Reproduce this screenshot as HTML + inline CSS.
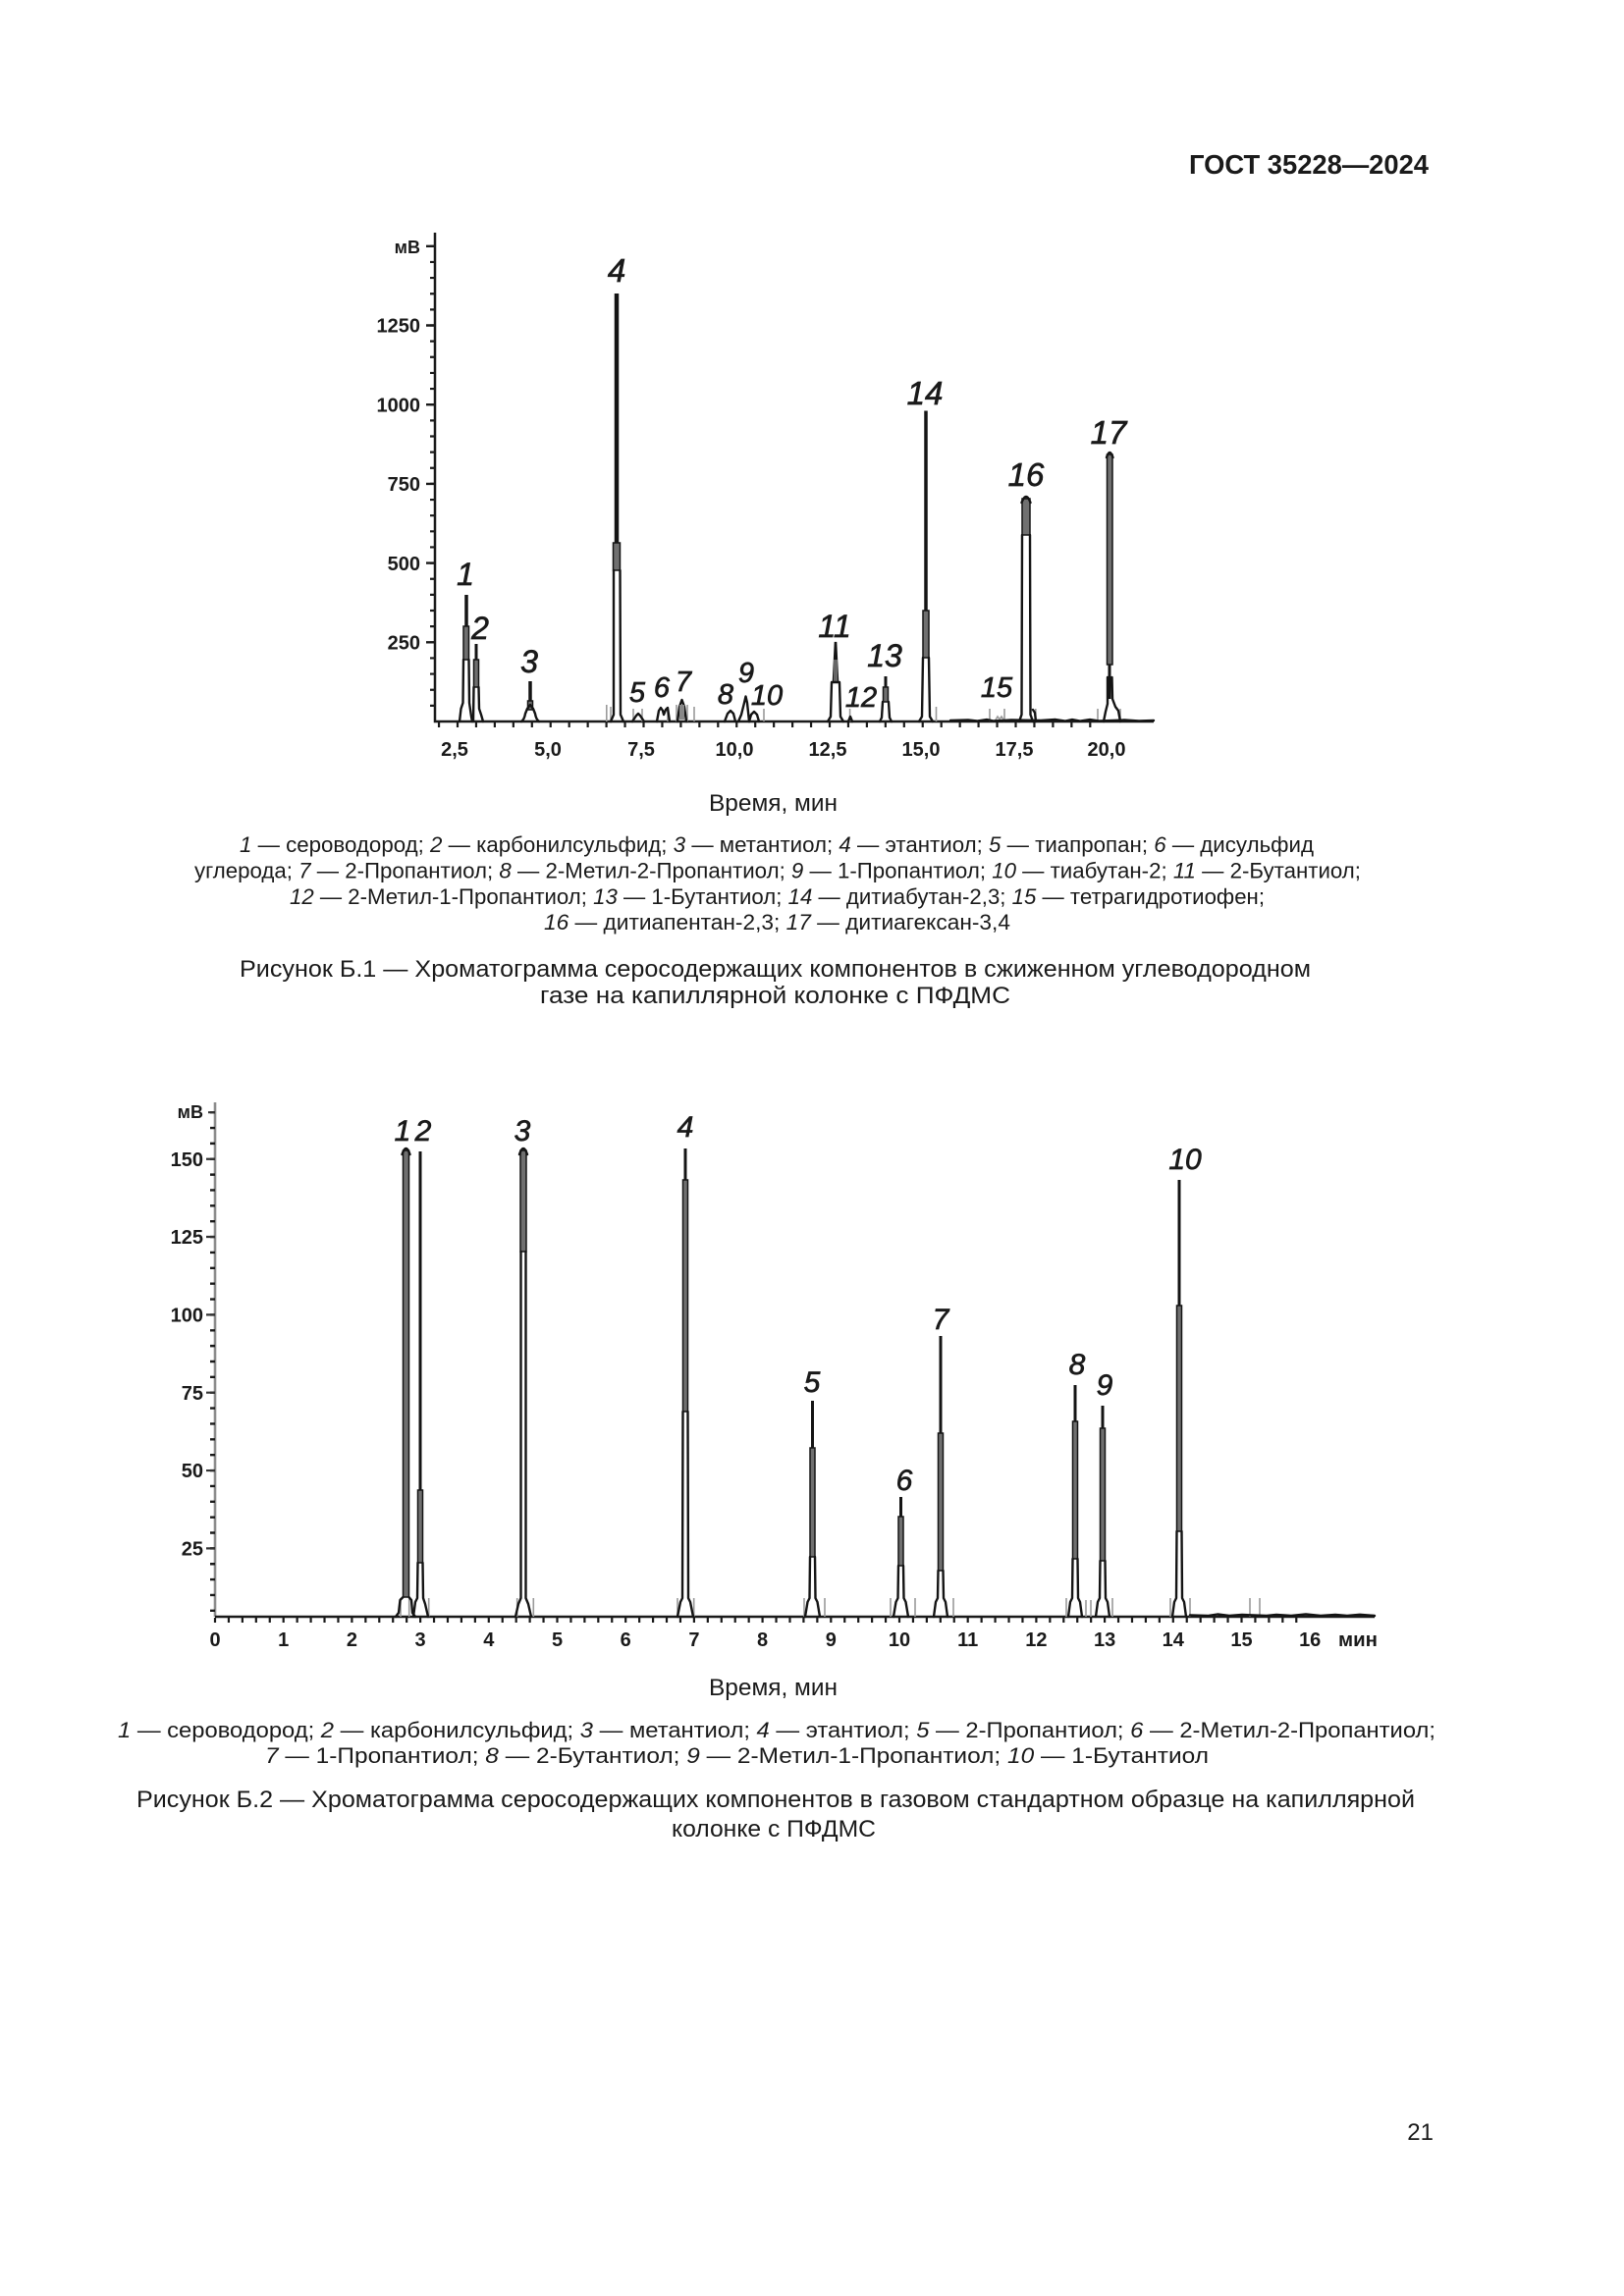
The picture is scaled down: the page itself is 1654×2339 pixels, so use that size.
<!DOCTYPE html>
<html><head><meta charset="utf-8"><style>
html,body{margin:0;padding:0;background:#fff;}
svg{display:block;}
.t{font-family:"Liberation Sans",Arial,sans-serif;fill:#1a1a1a;}
.b{font-weight:bold;}
.lb{font-family:"Liberation Sans",Arial,sans-serif;font-style:italic;fill:#1a1a1a;stroke:#1a1a1a;stroke-width:0.7;text-anchor:middle;}
.pk{stroke:#141414;stroke-width:2.4;fill:none;stroke-linejoin:round;stroke-linecap:round;}
.sp{stroke:#141414;fill:none;}
.bd{fill:#707070;stroke:#141414;stroke-width:1.5;}
.gm{stroke:#9a9a9a;stroke-width:1.6;fill:none;}
</style></head><body>
<svg width="1654" height="2339" viewBox="0 0 1654 2339" xmlns="http://www.w3.org/2000/svg">
<rect width="1654" height="2339" fill="#fff"/>

<!-- Header -->
<text class="t b" x="1211" y="177" font-size="28" textLength="244" lengthAdjust="spacingAndGlyphs">ГОСТ 35228—2024</text>

<!-- ============ CHART 1 ============ -->
<g>
<path d="M443,237 V735 H1175" stroke="#1a1a1a" stroke-width="2.5" fill="none"/>
<path d="M443,735m-5,-16.14h5m-5,-16.14h5m-5,-16.14h5m-5,-16.14h5m-5,-16.14h5m-5,-16.14h5m-5,-16.14h5m-5,-16.14h5m-5,-16.14h5m-5,-16.14h5m-5,-16.14h5m-5,-16.14h5m-5,-16.14h5m-5,-16.14h5m-5,-16.14h5m-5,-16.14h5m-5,-16.14h5m-5,-16.14h5m-5,-16.14h5m-5,-16.14h5m-5,-16.14h5m-5,-16.14h5m-5,-16.14h5m-5,-16.14h5m-5,-16.14h5m-5,-16.14h5m-5,-16.14h5m-5,-16.14h5m-5,-16.14h5m-5,-16.14h5" stroke="#1a1a1a" stroke-width="2.2" fill="none"/>
<path d="M434,250.8h9M434,331.5h9M434,412.2h9M434,492.9h9M434,573.6h9M434,654.3h9" stroke="#1a1a1a" stroke-width="2.4" fill="none"/>
<path d="M447.05,736v5m18.95,-5v5m18.95,-5v5m18.95,-5v5m18.95,-5v5m18.95,-5v5m18.95,-5v5m18.95,-5v5m18.95,-5v5m18.95,-5v5m18.95,-5v5m18.95,-5v5m18.95,-5v5m18.95,-5v5m18.95,-5v5m18.95,-5v5m18.95,-5v5m18.95,-5v5m18.95,-5v5m18.95,-5v5m18.95,-5v5m18.95,-5v5m18.95,-5v5m18.95,-5v5m18.95,-5v5m18.95,-5v5m18.95,-5v5m18.95,-5v5m18.95,-5v5m18.95,-5v5m18.95,-5v5m18.95,-5v5m18.95,-5v5m18.95,-5v5m18.95,-5v5m18.95,-5v5m18.95,-5" stroke="#1a1a1a" stroke-width="2.2" fill="none"/>

<text class="t b" x="428" y="258" font-size="18" text-anchor="end">мВ</text>
<text class="t b" x="428" y="338.7" font-size="20" text-anchor="end">1250</text>
<text class="t b" x="428" y="419.4" font-size="20" text-anchor="end">1000</text>
<text class="t b" x="428" y="500.1" font-size="20" text-anchor="end">750</text>
<text class="t b" x="428" y="580.8" font-size="20" text-anchor="end">500</text>
<text class="t b" x="428" y="661.5" font-size="20" text-anchor="end">250</text>

<g class="t b" font-size="20" text-anchor="middle">
<text x="463" y="770">2,5</text>
<text x="558" y="770">5,0</text>
<text x="653" y="770">7,5</text>
<text x="748" y="770">10,0</text>
<text x="843" y="770">12,5</text>
<text x="938" y="770">15,0</text>
<text x="1033" y="770">17,5</text>
<text x="1127" y="770">20,0</text>
</g>

<!-- gray markers -->
<path class="gm" d="M617.8,718V735M622,720V735M645,722V735M654,722V735M680,722V735M689,718V735M700,718V735M707,720V735M778,722V735M865.6,722V735M953.5,720V735M1008,722V735M1023,722V735M1054.8,722V735M1118,722V735M1141,722V735"/>

<!-- peak 1 -->
<line class="sp" x1="475" y1="606" x2="475" y2="640" stroke-width="3.5"/>
<rect class="bd" x="472" y="638" width="5.5" height="34"/>
<path class="pk" d="M472,672 L471.5,716 L469.5,722 L468,735 M477.5,672 L478,716 L480,730 L481,735"/>
<!-- peak 2 -->
<line class="sp" x1="485" y1="656" x2="485" y2="672" stroke-width="3"/>
<rect class="bd" x="482.5" y="672" width="5" height="28"/>
<path class="pk" d="M482.5,700 L482,735 M487.5,700 L488,722 L490,728 L492,735"/>
<!-- peak 3 -->
<line class="sp" x1="540" y1="694" x2="540" y2="716" stroke-width="3.5"/>
<rect class="bd" x="537.5" y="714" width="5" height="9"/>
<path class="pk" d="M531,735 Q534,733 535,727 L537,722 L540,718 L543,722 L545,727 Q546,733 549,735"/>
<!-- peak 4 -->
<line class="sp" x1="628" y1="299" x2="628" y2="555" stroke-width="4.5"/>
<rect class="bd" x="624.5" y="553" width="7" height="28"/>
<path class="pk" d="M625,581 L625,728 L622,735 M631.5,581 L632,728 L635,735"/>
<!-- small peaks 5-10 -->
<path class="pk" stroke-width="2" d="M644,735 L648,729 L650,727 L652,729 L656,735"/>
<path class="pk" stroke-width="2" d="M669,735 L671,724 L673,721 L675,724 L676,728 L678,723 L680,721 L682,735"/>
<path class="pk" stroke-width="2" d="M690,735 L692,720 L694.5,713 L697,720 L699,735"/>
<rect x="692" y="718" width="5" height="15" fill="#888"/>
<path class="pk" stroke-width="2" d="M738,735 L741,727 L744,724 L747,727 L749,735"/>
<path class="pk" stroke-width="2" d="M752,735 L755,728 L758,716 L759.5,709.5 L761,716 L763,735"/>
<path class="pk" stroke-width="2" d="M763,735 L765,728 L768,725 L771,728 L773,735"/>
<!-- peak 11 -->
<path class="sp" stroke-width="2.6" d="M849,695 L851,654 L853,695"/>
<rect x="849" y="672" width="4" height="22" fill="#666"/>
<path class="pk" d="M847,695 L846,730 L843,735 M855,695 L856,730 L859,735 M847,695 H855"/>
<!-- peak 12 -->
<path class="pk" stroke-width="2" d="M864,735 L866,730 L868,735"/>
<!-- peak 13 -->
<line class="sp" x1="902" y1="689" x2="902" y2="702" stroke-width="3"/>
<rect class="bd" x="899.5" y="700" width="5" height="15"/>
<path class="pk" d="M899,715 L898,731 L896,735 M905,715 L906,731 L908,735"/>
<!-- peak 14 -->
<line class="sp" x1="943" y1="418.5" x2="943" y2="624" stroke-width="3.5"/>
<rect class="bd" x="940" y="622" width="6" height="48"/>
<path class="pk" d="M940,670 L939,730 L936,735 M946,670 L947,730 L950,735"/>
<!-- peak 15 -->
<path class="gm" d="M1013,735 L1016,730 L1018,733 L1020,730 L1023,735"/>
<!-- peak 16 -->
<rect class="bd" x="1041" y="508" width="8" height="37"/>
<path class="pk" d="M1040.5,512 Q1045,500 1049.5,512"/>
<path class="pk" d="M1041,545 L1040.5,728 L1038,735 M1049,545 L1049.5,728 L1052,735 M1052,723 L1054,726 L1055,735"/>
<!-- peak 17 -->
<rect class="bd" x="1127.5" y="463" width="5.5" height="214"/>
<path class="pk" d="M1127,466 Q1130.2,456 1133.5,466"/>
<line class="sp" x1="1130" y1="677" x2="1130" y2="712" stroke-width="3"/>
<path class="pk" d="M1124,735 L1126,725 L1128,717 L1128,690 M1132.5,690 L1133,712 L1136,720 L1139,724 L1141,735"/>
<!-- baseline noise -->
<path class="pk" stroke-width="2" d="M968,734 L986,733.5 L995,734.5 L1005,733 L1012,734.5 L1030,733.5 L1060,734 L1075,733 L1085,734.5 L1092,733 L1100,734.5 L1110,733 L1120,734.5 L1145,733.5 L1160,734.5 L1175,734"/>

<!-- labels -->
<text class="lb" x="474" y="596" font-size="32">1</text>
<text class="lb" x="489" y="651" font-size="32">2</text>
<text class="lb" x="539" y="685" font-size="32">3</text>
<text class="lb" x="628" y="287" font-size="33">4</text>
<text class="lb" x="649" y="715" font-size="29">5</text>
<text class="lb" x="674" y="710" font-size="29">6</text>
<text class="lb" x="696" y="704" font-size="29">7</text>
<text class="lb" x="739" y="717" font-size="29">8</text>
<text class="lb" x="760" y="695" font-size="29">9</text>
<text class="lb" x="781" y="718" font-size="29">10</text>
<text class="lb" x="850" y="649" font-size="32">11</text>
<text class="lb" x="877" y="720" font-size="29">12</text>
<text class="lb" x="901" y="679" font-size="32">13</text>
<text class="lb" x="942" y="412" font-size="33">14</text>
<text class="lb" x="1015" y="710" font-size="29">15</text>
<text class="lb" x="1045" y="495" font-size="33">16</text>
<text class="lb" x="1129" y="452" font-size="33">17</text>
</g>

<!-- Chart 1 captions -->
<text class="t" x="722" y="826" font-size="24" textLength="131" lengthAdjust="spacingAndGlyphs">Время, мин</text>
<text class="t" x="244" y="868" font-size="22" textLength="1094" lengthAdjust="spacingAndGlyphs"><tspan font-style="italic">1</tspan> — сероводород; <tspan font-style="italic">2</tspan> — карбонилсульфид; <tspan font-style="italic">3</tspan> — метантиол; <tspan font-style="italic">4</tspan> — этантиол; <tspan font-style="italic">5</tspan> — тиапропан; <tspan font-style="italic">6</tspan> — дисульфид</text>
<text class="t" x="198" y="894.5" font-size="22" textLength="1188" lengthAdjust="spacingAndGlyphs">углерода; <tspan font-style="italic">7</tspan> — 2-Пропантиол; <tspan font-style="italic">8</tspan> — 2-Метил-2-Пропантиол; <tspan font-style="italic">9</tspan> — 1-Пропантиол; <tspan font-style="italic">10</tspan> — тиабутан-2; <tspan font-style="italic">11</tspan> — 2-Бутантиол;</text>
<text class="t" x="295" y="921" font-size="22" textLength="993" lengthAdjust="spacingAndGlyphs"><tspan font-style="italic">12</tspan> — 2-Метил-1-Пропантиол; <tspan font-style="italic">13</tspan> — 1-Бутантиол; <tspan font-style="italic">14</tspan> — дитиабутан-2,3; <tspan font-style="italic">15</tspan> — тетрагидротиофен;</text>
<text class="t" x="554" y="947" font-size="22" textLength="475" lengthAdjust="spacingAndGlyphs"><tspan font-style="italic">16</tspan>  — дитиапентан-2,3; <tspan font-style="italic">17</tspan> — дитиагексан-3,4</text>
<text class="t" x="244" y="995" font-size="24" textLength="1091" lengthAdjust="spacingAndGlyphs">Рисунок Б.1 — Хроматограмма серосодержащих компонентов в сжиженном углеводородном</text>
<text class="t" x="550" y="1022" font-size="24" textLength="479" lengthAdjust="spacingAndGlyphs">газе на капиллярной колонке с ПФДМС</text>

<!-- ============ CHART 2 ============ -->
<g>
<line x1="219" y1="1123" x2="219" y2="1647" stroke="#8c8c8c" stroke-width="2.6"/>
<path d="M219,1656.7m-5,-15.865h5m-5,-15.865h5m-5,-15.865h5m-5,-15.865h5m-5,-15.865h5m-5,-15.865h5m-5,-15.865h5m-5,-15.865h5m-5,-15.865h5m-5,-15.865h5m-5,-15.865h5m-5,-15.865h5m-5,-15.865h5m-5,-15.865h5m-5,-15.865h5m-5,-15.865h5m-5,-15.865h5m-5,-15.865h5m-5,-15.865h5m-5,-15.865h5m-5,-15.865h5m-5,-15.865h5m-5,-15.865h5m-5,-15.865h5m-5,-15.865h5m-5,-15.865h5m-5,-15.865h5m-5,-15.865h5m-5,-15.865h5m-5,-15.865h5m-5,-15.865h5m-5,-15.865h5m-5,-15.865h5" stroke="#1a1a1a" stroke-width="2.4" fill="none"/>
<path d="M210,1577.4h9M210,1498.05h9M210,1418.7h9M210,1339.35h9M210,1260h9M210,1180.75h9M212,1133.2h7" stroke="#333" stroke-width="2.2" fill="none"/>
<line x1="219" y1="1647" x2="1400" y2="1647" stroke="#1a1a1a" stroke-width="2.6"/>
<path d="M219,1648v5m13.94,-5v5m13.94,-5v5m13.94,-5v5m13.94,-5v5m13.94,-5v5m13.94,-5v5m13.94,-5v5m13.94,-5v5m13.94,-5v5m13.94,-5v5m13.94,-5v5m13.94,-5v5m13.94,-5v5m13.94,-5v5m13.94,-5v5m13.94,-5v5m13.94,-5v5m13.94,-5v5m13.94,-5v5m13.94,-5v5m13.94,-5v5m13.94,-5v5m13.94,-5v5m13.94,-5v5m13.94,-5v5m13.94,-5v5m13.94,-5v5m13.94,-5v5m13.94,-5v5m13.94,-5v5m13.94,-5v5m13.94,-5v5m13.94,-5v5m13.94,-5v5m13.94,-5v5m13.94,-5v5m13.94,-5v5m13.94,-5v5m13.94,-5v5m13.94,-5v5m13.94,-5v5m13.94,-5v5m13.94,-5v5m13.94,-5v5m13.94,-5v5m13.94,-5v5m13.94,-5v5m13.94,-5v5m13.94,-5v5m13.94,-5v5m13.94,-5v5m13.94,-5v5m13.94,-5v5m13.94,-5v5m13.94,-5v5m13.94,-5v5m13.94,-5v5m13.94,-5v5m13.94,-5v5m13.94,-5v5m13.94,-5v5m13.94,-5v5m13.94,-5v5m13.94,-5v5m13.94,-5v5m13.94,-5v5m13.94,-5v5m13.94,-5v5m13.94,-5v5m13.94,-5v5m13.94,-5v5m13.94,-5v5m13.94,-5v5m13.94,-5v5m13.94,-5v5m13.94,-5v5m13.94,-5v5m13.94,-5v5m13.94,-5v5m13.94,-5" stroke="#1a1a1a" stroke-width="2.2" fill="none"/>

<text class="t b" x="207" y="1139" font-size="18" text-anchor="end">мВ</text>
<text class="t b" x="207" y="1188" font-size="20" text-anchor="end">150</text>
<text class="t b" x="207" y="1267.2" font-size="20" text-anchor="end">125</text>
<text class="t b" x="207" y="1346.5" font-size="20" text-anchor="end">100</text>
<text class="t b" x="207" y="1425.9" font-size="20" text-anchor="end">75</text>
<text class="t b" x="207" y="1505.2" font-size="20" text-anchor="end">50</text>
<text class="t b" x="207" y="1584.6" font-size="20" text-anchor="end">25</text>

<g class="t b" font-size="20" text-anchor="middle">
<text x="219" y="1677">0</text>
<text x="288.7" y="1677">1</text>
<text x="358.4" y="1677">2</text>
<text x="428.1" y="1677">3</text>
<text x="497.8" y="1677">4</text>
<text x="567.5" y="1677">5</text>
<text x="637.2" y="1677">6</text>
<text x="706.9" y="1677">7</text>
<text x="776.6" y="1677">8</text>
<text x="846.3" y="1677">9</text>
<text x="916" y="1677">10</text>
<text x="985.7" y="1677">11</text>
<text x="1055.4" y="1677">12</text>
<text x="1125.1" y="1677">13</text>
<text x="1194.8" y="1677">14</text>
<text x="1264.5" y="1677">15</text>
<text x="1334.2" y="1677">16</text>
</g>
<text class="t b" x="1363" y="1677" font-size="20" textLength="40" lengthAdjust="spacingAndGlyphs">мин</text>

<!-- gray markers -->
<path class="gm" d="M408,1628V1647M416.7,1628V1647M436.7,1628V1647M526.7,1628V1647M543.3,1628V1647M690,1628V1647M706.7,1628V1647M819,1628V1647M840,1628V1647M907,1628V1647M932,1628V1647M971,1628V1647M1086,1628V1647M1106,1630V1647M1111,1630V1647M1133,1628V1647M1192,1628V1647M1212,1628V1647M1273,1628V1647M1283,1628V1647"/>

<!-- peak 1 -->
<rect class="bd" x="410.5" y="1172" width="6" height="455"/>
<path class="pk" d="M409.5,1176 Q413.5,1164 417.5,1176"/>
<path class="pk" d="M403,1647 L406,1643 L407.5,1630 L410.5,1627 M416.5,1627 L419,1630 L420,1643 L423,1647"/>
<!-- peak 2 -->
<line class="sp" x1="428" y1="1173" x2="428" y2="1520" stroke-width="3"/>
<rect class="bd" x="425.5" y="1518" width="5" height="74"/>
<path class="pk" d="M425.5,1592 L425,1628 L423,1632 L421,1647 M430.5,1592 L431,1628 L433,1634 L436,1647"/>
<!-- peak 3 -->
<rect class="bd" x="530" y="1172" width="6" height="103"/>
<path class="pk" d="M529,1176 Q533,1164 537,1176"/>
<path class="pk" d="M530.5,1275 L530.5,1628 L528,1634 L525,1647 M535.5,1275 L535.5,1628 L538,1634 L541,1647"/>
<!-- peak 4 -->
<line class="sp" x1="698" y1="1170" x2="698" y2="1204" stroke-width="3"/>
<rect class="bd" x="695.5" y="1202" width="5" height="236"/>
<path class="pk" d="M695.5,1438 L695,1628 L693,1632 L690,1647 M700.5,1438 L701,1628 L703,1632 L706,1647"/>
<!-- peak 5 -->
<line class="sp" x1="827.5" y1="1427" x2="827.5" y2="1477" stroke-width="3"/>
<rect class="bd" x="825" y="1475" width="5" height="111"/>
<path class="pk" d="M825,1586 L824.5,1628 L822.5,1632 L820,1647 M830,1586 L830.5,1628 L832.5,1632 L835,1647"/>
<!-- peak 6 -->
<line class="sp" x1="917.5" y1="1525" x2="917.5" y2="1547" stroke-width="3"/>
<rect class="bd" x="915" y="1545" width="5" height="50"/>
<path class="pk" d="M915,1595 L914.5,1628 L912.5,1632 L910,1647 M920,1595 L920.5,1628 L922.5,1632 L925,1647"/>
<!-- peak 7 -->
<line class="sp" x1="958" y1="1361" x2="958" y2="1462" stroke-width="3"/>
<rect class="bd" x="955.5" y="1460" width="5" height="140"/>
<path class="pk" d="M955.5,1600 L955,1628 L953,1632 L951,1647 M960.5,1600 L961,1628 L963,1632 L965,1647"/>
<!-- peak 8 -->
<line class="sp" x1="1095" y1="1411" x2="1095" y2="1450" stroke-width="3"/>
<rect class="bd" x="1092.5" y="1448" width="5" height="140"/>
<path class="pk" d="M1092.5,1588 L1092,1628 L1090,1632 L1088,1647 M1097.5,1588 L1098,1628 L1100,1632 L1102,1647"/>
<!-- peak 9 -->
<line class="sp" x1="1123" y1="1432" x2="1123" y2="1457" stroke-width="3"/>
<rect class="bd" x="1120.5" y="1455" width="5" height="135"/>
<path class="pk" d="M1120.5,1590 L1120,1628 L1118,1632 L1116,1647 M1125.5,1590 L1126,1628 L1128,1632 L1130,1647"/>
<!-- peak 10 -->
<line class="sp" x1="1201" y1="1202" x2="1201" y2="1332" stroke-width="3"/>
<rect class="bd" x="1198.5" y="1330" width="5" height="230"/>
<path class="pk" d="M1198.5,1560 L1198,1628 L1196,1632 L1194,1647 M1203.5,1560 L1204,1628 L1206,1632 L1208,1647"/>
<!-- baseline noise -->
<path class="pk" stroke-width="2" d="M1212,1645.5 L1230,1646 L1240,1644.5 L1252,1646 L1265,1645 L1290,1646 L1300,1645 L1315,1646 L1330,1644.5 L1345,1646 L1360,1645 L1372,1646 L1385,1644.8 L1400,1646"/>

<!-- labels -->
<text class="lb" x="410" y="1162" font-size="30">1</text>
<text class="lb" x="431" y="1162" font-size="30">2</text>
<text class="lb" x="532" y="1162" font-size="30">3</text>
<text class="lb" x="698" y="1158" font-size="30">4</text>
<text class="lb" x="827" y="1418" font-size="30">5</text>
<text class="lb" x="921" y="1518" font-size="30">6</text>
<text class="lb" x="958" y="1354" font-size="30">7</text>
<text class="lb" x="1097" y="1400" font-size="30">8</text>
<text class="lb" x="1125" y="1421" font-size="30">9</text>
<text class="lb" x="1207" y="1191" font-size="30">10</text>
</g>

<!-- Chart 2 captions -->
<text class="t" x="722" y="1727" font-size="24" textLength="131" lengthAdjust="spacingAndGlyphs">Время, мин</text>
<text class="t" x="120" y="1770" font-size="22" textLength="1342" lengthAdjust="spacingAndGlyphs"><tspan font-style="italic">1</tspan> — сероводород; <tspan font-style="italic">2</tspan> — карбонилсульфид; <tspan font-style="italic">3</tspan> — метантиол; <tspan font-style="italic">4</tspan> — этантиол; <tspan font-style="italic">5</tspan> — 2-Пропантиол; <tspan font-style="italic">6</tspan> — 2-Метил-2-Пропантиол;</text>
<text class="t" x="270" y="1796" font-size="22" textLength="961" lengthAdjust="spacingAndGlyphs"><tspan font-style="italic">7</tspan> — 1-Пропантиол; <tspan font-style="italic">8</tspan> — 2-Бутантиол; <tspan font-style="italic">9</tspan> — 2-Метил-1-Пропантиол; <tspan font-style="italic">10</tspan> — 1-Бутантиол</text>
<text class="t" x="139" y="1841" font-size="24" textLength="1302" lengthAdjust="spacingAndGlyphs">Рисунок Б.2 — Хроматограмма серосодержащих компонентов в газовом стандартном образце на капиллярной</text>
<text class="t" x="684" y="1871" font-size="24" textLength="208" lengthAdjust="spacingAndGlyphs">колонке с ПФДМС</text>

<!-- page number -->
<text class="t" x="1460" y="2180" font-size="24" text-anchor="end">21</text>
</svg>
</body></html>
